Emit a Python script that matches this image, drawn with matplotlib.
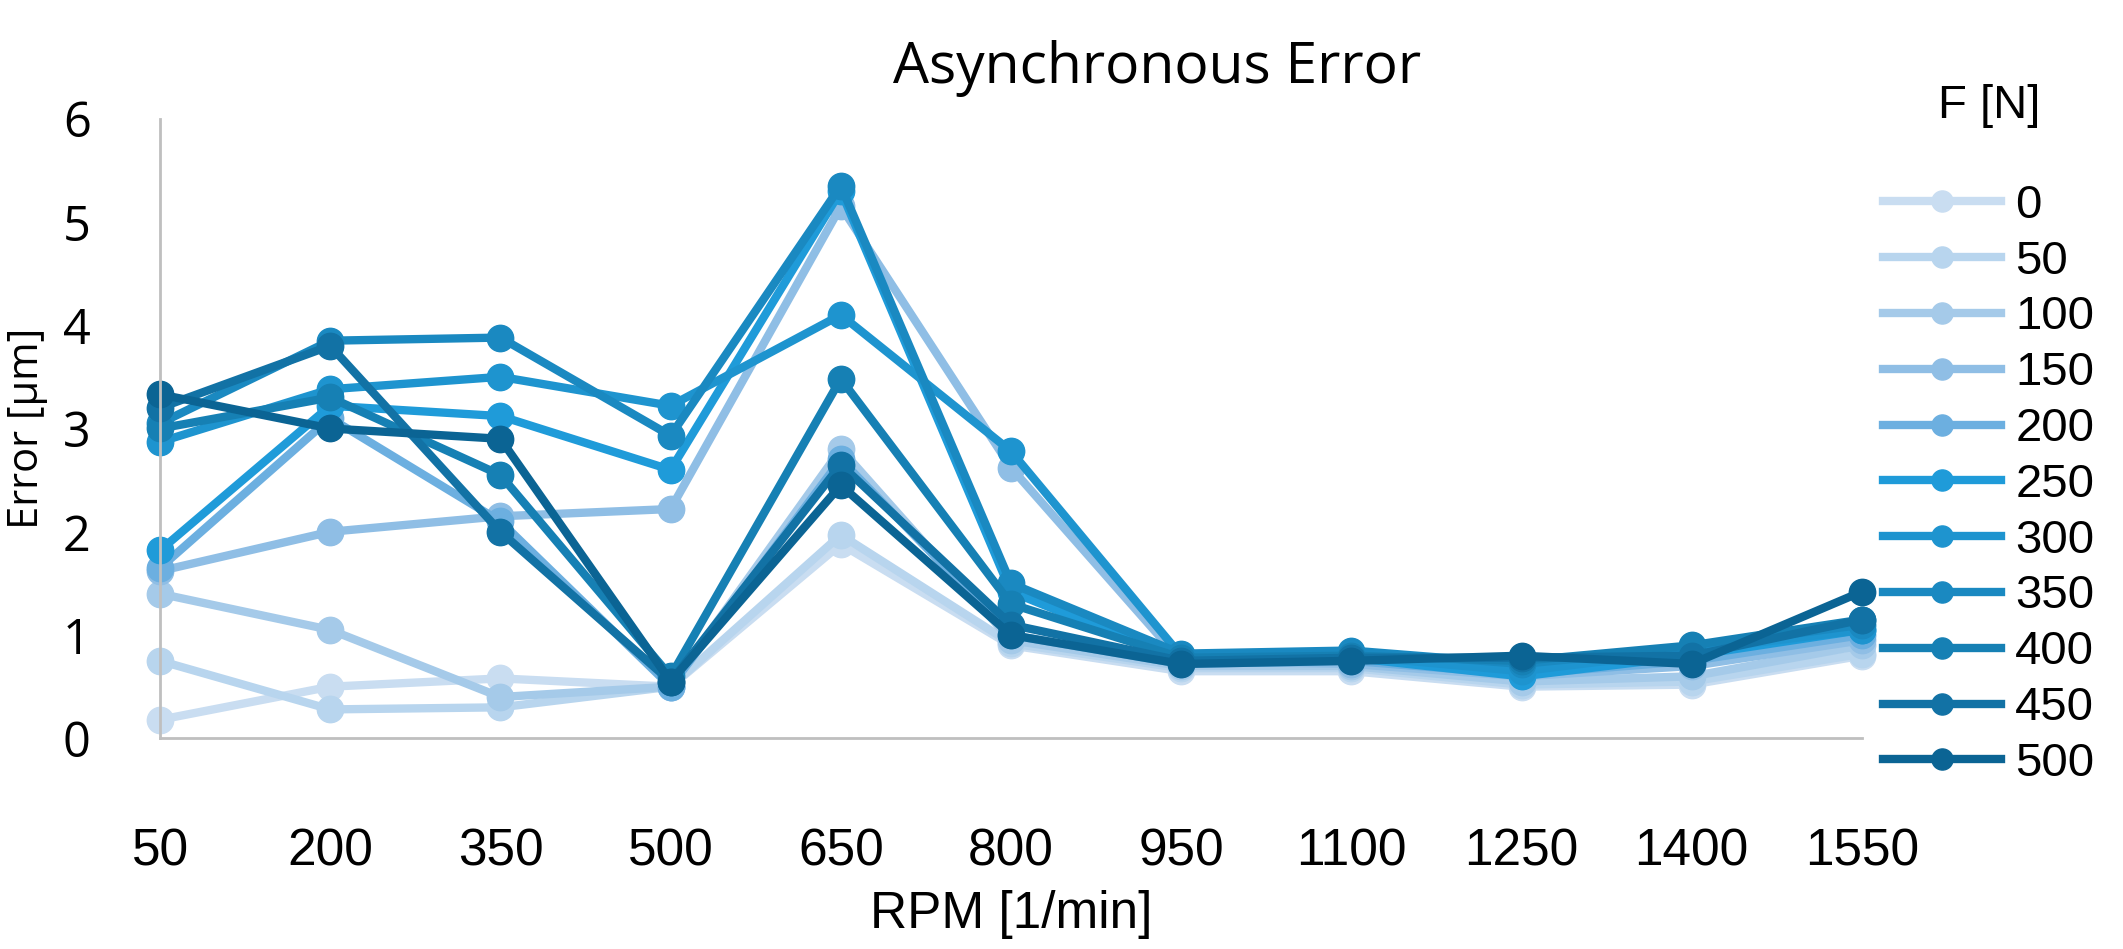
import matplotlib
matplotlib.use("Agg")
import matplotlib.pyplot as plt

rpm = ["50", "200", "350", "500", "650", "800", "950", "1100", "1250", "1400", "1550"]
forces = ["0", "50", "100", "150", "200", "250", "300", "350", "400", "450", "500"]

f0 = [0.18, 0.50, 0.58, 0.50, 1.88, 0.90, 0.65, 0.65, 0.50, 0.52, 0.80]
f50 = [0.75, 0.28, 0.30, 0.50, 1.97, 0.92, 0.68, 0.68, 0.52, 0.55, 0.82]
f100 = [1.40, 1.05, 0.40, 0.50, 2.80, 0.95, 0.70, 0.70, 0.55, 0.60, 0.90]
f150 = [1.62, 2.00, 2.15, 2.22, 5.15, 2.62, 0.75, 0.72, 0.60, 0.70, 0.95]
f200 = [1.65, 3.10, 2.10, 0.50, 2.70, 1.00, 0.72, 0.75, 0.62, 0.75, 1.00]
f250 = [1.82, 3.22, 3.12, 2.60, 5.30, 1.42, 0.75, 0.78, 0.60, 0.80, 1.05]
f300 = [2.87, 3.38, 3.50, 3.22, 4.10, 2.78, 0.80, 0.80, 0.65, 0.85, 1.05]
f350 = [3.05, 3.85, 3.88, 2.93, 5.35, 1.50, 0.82, 0.85, 0.72, 0.88, 1.10]
f400 = [3.00, 3.30, 2.55, 0.60, 3.48, 1.30, 0.78, 0.80, 0.75, 0.90, 1.15]
f450 = [3.20, 3.80, 2.00, 0.55, 2.65, 1.10, 0.75, 0.78, 0.78, 0.80, 1.15]
f500 = [3.33, 3.00, 2.90, 0.55, 2.45, 1.00, 0.72, 0.75, 0.80, 0.72, 1.42]
series = [f0, f50, f100, f150, f200, f250, f300, f350, f400, f450, f500]

colors = ["#c9ddf1", "#b8d5ee", "#a5cae9", "#8fbee5", "#6cafe0", "#1f9bd9",
          "#1e94cf", "#1a89c1", "#1680b4", "#1272a5", "#0b6494"]

plt.rcParams["font.family"] = ["Liberation Sans Narrow", "Liberation Sans", "DejaVu Sans"]
wide = ["Open Sans", "DejaVu Sans"]

fig = plt.figure(figsize=(21.23, 9.49), dpi=100)
ax = fig.add_axes([0.0754, 0.222, 0.8016, 0.653])

x = list(range(len(rpm)))
for vals, lab, c in zip(series, forces, colors):
    ax.plot(x, vals, color=c, lw=6, marker="o", ms=19, label=lab, clip_on=False)

ax.set_xlim(0, len(rpm) - 1)
ax.set_ylim(0, 6)
ax.set_xticks(x)
ax.set_xticklabels(rpm, fontsize=37)
ax.set_yticks(range(7))
ax.set_yticklabels([str(i) for i in range(7)], fontsize=35, family=wide)
ax.tick_params(axis="x", length=0, pad=64)
ax.tick_params(axis="y", length=0, pad=50)
for s in ["top", "right"]:
    ax.spines[s].set_visible(False)
for s in ["left", "bottom"]:
    ax.spines[s].set_color("#bfbfbf")
    ax.spines[s].set_linewidth(2)

fig.text(0.545, 0.928, "Asynchronous Error", fontsize=41, family=wide,
         ha="center", va="center")
ax.set_xlabel("RPM [1/min]", fontsize=37, labelpad=10)
ax.set_ylabel("Error [\u00b5m]", fontsize=30, family=wide)
ax.yaxis.set_label_coords(-0.066, 0.5)

leg = fig.legend(loc="upper left", bbox_to_anchor=(0.867, 0.956), frameon=False,
                 fontsize=34, title="F [N]", title_fontsize=34,
                 handlelength=2.5, handletextpad=0.3, labelspacing=0.25, markerscale=0.8)
leg._legend_box.sep = 40

fig.savefig("out.png", dpi=100)
